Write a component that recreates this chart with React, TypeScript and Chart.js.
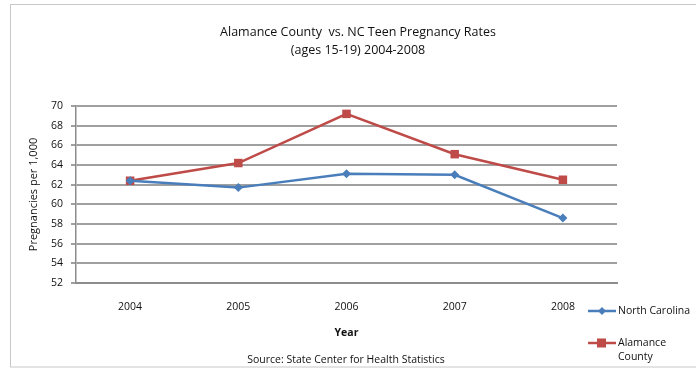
import React, { useEffect, useRef } from "react";
import { Chart, registerables } from "chart.js";

Chart.register(...registerables);

const years = ["2004", "2005", "2006", "2007", "2008"];
const northCarolina = [62.4, 61.7, 63.1, 63.0, 58.6];
const alamance = [62.4, 64.2, 69.2, 65.1, 62.5];
const titleLines = ["Alamance County  vs. NC Teen Pregnancy Rates", "(ages 15-19) 2004-2008"];
const yTitle = "Pregnancies per 1,000";
const xTitle = "Year";
const sourceText = "Source: State Center for Health Statistics";
const legendLabels = [["North Carolina"], ["Alamance", "County"]];

const FONT = "'Open Sans', 'Noto Sans', sans-serif";
const BLUE = "#4A7EBB";
const RED = "#BE4B48";
const TEXT = "#111";

const decorPlugin = {
  id: "decor",
  afterDraw(chart: any) {
    const ctx = chart.ctx;
    ctx.save();
    // outer border
    ctx.strokeStyle = "#c8c8c8";
    ctx.lineWidth = 1;
    ctx.strokeRect(10.5, 4.5, 700, 362.5);
    // title
    ctx.fillStyle = TEXT;
    ctx.font = `12.5px ${FONT}`;
    ctx.textAlign = "center";
    ctx.textBaseline = "middle";
    ctx.fillText(titleLines[0], 358, 32);
    ctx.fillText(titleLines[1], 358, 50);
    // source
    ctx.font = `10.5px ${FONT}`;
    ctx.fillText(sourceText, 346, 360);
    // legend
    const items = chart.data.datasets;
    const rows = [311, 343];
    items.forEach((ds: any, i: number) => {
      const y = rows[i];
      ctx.strokeStyle = ds.borderColor;
      ctx.lineWidth = 2.5;
      ctx.beginPath();
      ctx.moveTo(588, y);
      ctx.lineTo(616, y);
      ctx.stroke();
      ctx.fillStyle = ds.borderColor;
      if (ds.pointStyle === "rect") {
        ctx.fillRect(597, y - 4.5, 9, 9);
      } else {
        ctx.beginPath();
        ctx.moveTo(602, y - 4);
        ctx.lineTo(606, y);
        ctx.lineTo(602, y + 4);
        ctx.lineTo(598, y);
        ctx.closePath();
        ctx.fill();
      }
      ctx.fillStyle = TEXT;
      ctx.font = `10.5px ${FONT}`;
      ctx.textAlign = "left";
      legendLabels[i].forEach((t, j) => {
        ctx.fillText(t, 618, y + j * 14);
      });
    });
    ctx.restore();
  },
};

export default function App() {
  const ref = useRef<HTMLCanvasElement>(null);
  useEffect(() => {
    if (!ref.current) return;
    const chart = new Chart(ref.current, {
      type: "line",
      data: {
        labels: years,
        datasets: [
          {
            label: "North Carolina",
            data: northCarolina,
            borderColor: BLUE,
            backgroundColor: BLUE,
            borderWidth: 2.5,
            pointStyle: "rectRot",
            pointRadius: 4.5,
            pointBorderWidth: 0,
            tension: 0,
          },
          {
            label: "Alamance County",
            data: alamance,
            borderColor: RED,
            backgroundColor: RED,
            borderWidth: 2.5,
            pointStyle: "rect",
            pointRadius: 6,
            pointBorderWidth: 0,
            tension: 0,
          },
        ],
      },
      options: {
        animation: false,
        responsive: true,
        maintainAspectRatio: false,
        layout: { padding: { left: 27, right: 79, top: 106, bottom: 30 } },
        plugins: {
          legend: { display: false },
          title: { display: false },
          tooltip: { enabled: false },
        },
        scales: {
          x: {
            offset: true,
            grid: { display: false, drawTicks: false, offset: true },
            border: { display: true, color: "#8c8c8c", width: 2 },
            ticks: { color: TEXT, font: { family: FONT, size: 10.5 }, padding: 18 },
            title: {
              display: true,
              text: xTitle,
              color: TEXT,
              font: { family: FONT, size: 10.5, weight: "bold" },
              padding: { top: 6, bottom: 0 },
            },
            afterFit(scale: any) {
              scale.height = 56;
            },
          },
          y: {
            min: 52,
            max: 70,
            ticks: { stepSize: 2, color: TEXT, font: { family: FONT, size: 10.5 }, padding: 8 },
            grid: { color: "#a0a0a0", lineWidth: 2, tickLength: 5 },
            border: { display: true, color: "#8c8c8c", width: 1.5 },
            title: {
              display: true,
              text: yTitle,
              color: TEXT,
              font: { family: FONT, size: 11 },
              padding: { top: 0, bottom: 6 },
            },
            afterFit(scale: any) {
              scale.width = 49;
            },
          },
        },
      },
      plugins: [decorPlugin],
    });
    return () => chart.destroy();
  }, []);
  return (
    <div style={{ position: "fixed", left: 0, top: 0, width: 696, height: 369, background: "#fff" }}>
      <canvas ref={ref} />
    </div>
  );
}
